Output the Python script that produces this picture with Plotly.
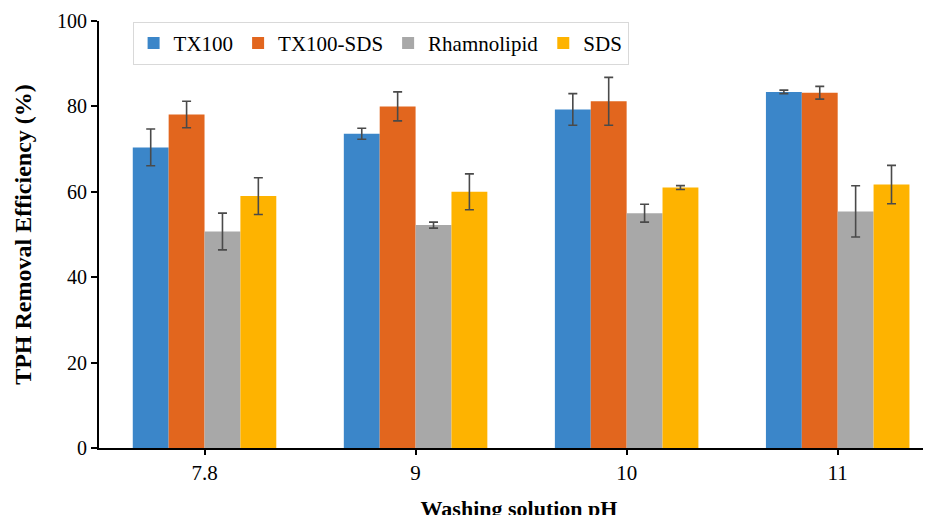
import plotly.graph_objects as go

categories = ["7.8", "9", "10", "11"]
series_names = ["TX100", "TX100-SDS", "Rhamnolipid", "SDS"]
tx100 = [70.4, 73.6, 79.3, 83.4]
tx100_err = [4.3, 1.3, 3.7, 0.4]
tx100_sds = [78.1, 80.0, 81.2, 83.2]
tx100_sds_err = [3.1, 3.4, 5.6, 1.5]
rhamno = [50.7, 52.2, 55.0, 55.4]
rhamno_err = [4.3, 0.7, 2.1, 6.0]
sds = [59.0, 60.0, 61.0, 61.7]
sds_err = [4.3, 4.2, 0.45, 4.5]
y_ticks = [0, 20, 40, 60, 80, 100]

colors = ["#3B86C9", "#E2661E", "#A8A8A8", "#FEB300"]
values = [tx100, tx100_sds, rhamno, sds]
errors = [tx100_err, tx100_sds_err, rhamno_err, sds_err]

fig = go.Figure()
for name, v, e, c in zip(series_names, values, errors, colors):
    fig.add_trace(go.Bar(
        x=categories, y=v, name=name,
        marker=dict(color=c, line=dict(width=0)),
        error_y=dict(type="data", array=e, visible=True, color="#4a4a4a",
                     thickness=1.6, width=4.5),
    ))

serif = "Liberation Serif"
fig.update_layout(
    width=931, height=515,
    margin=dict(l=91, r=0, t=13, b=75),
    paper_bgcolor="white", plot_bgcolor="white",
    barmode="group", bargap=0.32, bargroupgap=0,
    font=dict(family=serif, size=20, color="black"),
    showlegend=True,
    legend=dict(orientation="h", x=0.04, y=0.998, xanchor="left", yanchor="top",
                bordercolor="#d9d9d9", borderwidth=1, bgcolor="white",
                font=dict(family=serif, size=21, color="black"),
                itemwidth=30, tracegroupgap=0),
    xaxis=dict(
        type="category", range=[-0.5, 3.48],
        showline=True, linecolor="black", linewidth=2,
        ticks="outside", ticklen=5, tickwidth=1.5, tickcolor="black",
        tickfont=dict(family=serif, size=21),
        showgrid=False, automargin=False,
        title=dict(text="<b>Washing solution pH</b>", standoff=16,
                   font=dict(family=serif, size=22)),
    ),
    yaxis=dict(
        range=[0, 100], tickvals=y_ticks,
        showline=True, linecolor="black", linewidth=2,
        ticks="outside", ticklen=6, tickwidth=1.5, tickcolor="black",
        tickfont=dict(family=serif, size=20),
        showgrid=False, zeroline=False, automargin=False,
        title=dict(text="<b>TPH Removal Efficiency (%)</b>", standoff=19,
                   font=dict(family=serif, size=24)),
    ),
)

fig.write_html("out.html")
